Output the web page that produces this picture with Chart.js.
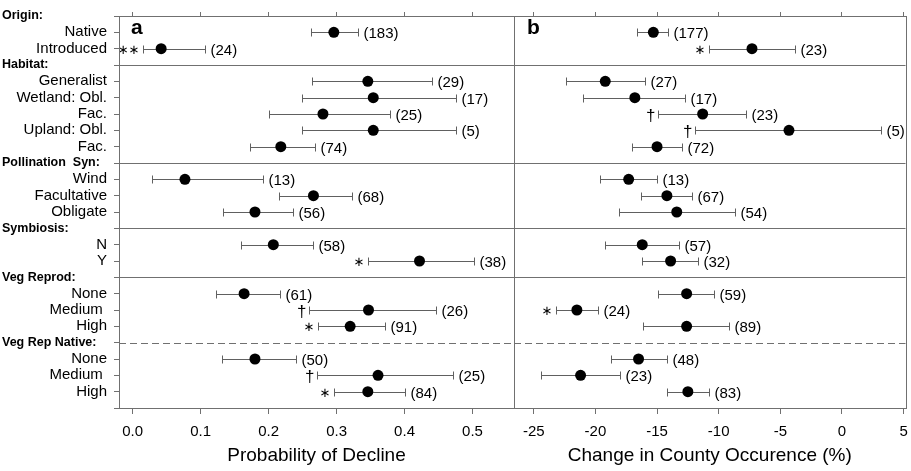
<!DOCTYPE html>
<html>
<head>
<meta charset="utf-8">
<script src="https://cdn.jsdelivr.net/npm/chart.js@4"></script>
<style>
  body { margin: 0; background: #fff; }
  #wrap { position: relative; width: 911px; height: 471px; }
  canvas { position: absolute; top: 0; }
</style>
</head>
<body>
<div id="wrap">
  <canvas id="chartA" width="520" height="471" style="left:0"></canvas>
  <canvas id="chartB" width="407" height="471" style="left:504px"></canvas>
</div>
<script>
// row slots, top to bottom (0 = top edge, 24 = bottom edge)
const rowLabels = ["", "Native", "Introduced", "", "Generalist", "Wetland: Obl.", "Fac.", "Upland: Obl.", "Fac.",
  "", "Wind", "Facultative", "Obligate", "", "N", "Y", "", "None", "Medium ", "High", "", "None", "Medium ", "High", ""];
const headerNames = ["Origin:", "Habitat:", "Pollination  Syn:", "Symbiosis:", "Veg Reprod:", "Veg Rep Native:"];
const headerRows = [0, 3, 9, 13, 16, 20];
const solidSeps = [3, 9, 13, 16];
const dashedSeps = [20];
const dataRows = [1, 2, 4, 5, 6, 7, 8, 10, 11, 12, 14, 15, 17, 18, 19, 21, 22, 23];

// panel a: probability of decline
const probMean = [0.296, 0.042, 0.346, 0.354, 0.280, 0.354, 0.218, 0.077, 0.266, 0.180, 0.207, 0.422, 0.164, 0.347, 0.320, 0.180, 0.361, 0.346];
const probLow  = [0.263, 0.016, 0.264, 0.249, 0.200, 0.249, 0.172, 0.028, 0.216, 0.133, 0.159, 0.346, 0.123, 0.260, 0.273, 0.132, 0.271, 0.296];
const probHigh = [0.332, 0.107, 0.440, 0.476, 0.378, 0.476, 0.269, 0.192, 0.322, 0.236, 0.266, 0.502, 0.217, 0.446, 0.371, 0.241, 0.472, 0.400];
const probN    = [183, 24, 29, 17, 25, 5, 74, 13, 68, 56, 58, 38, 61, 26, 91, 50, 25, 84];
const probSig  = ["", "**", "", "", "", "", "", "", "", "", "", "*", "", "†", "*", "", "†", "*"];
const probTicks = [0, 0.1, 0.2, 0.3, 0.4, 0.5];

// panel b: change in county occurrence (%)
const chgMean = [-15.3, -7.3, -19.2, -16.8, -11.3, -4.3, -15.0, -17.3, -14.2, -13.4, -16.2, -13.9, -12.6, -21.5, -12.6, -16.5, -21.2, -12.5];
const chgLow  = [-16.6, -10.8, -22.4, -21.0, -14.9, -11.9, -17.0, -19.6, -16.3, -18.1, -19.2, -16.2, -14.9, -23.2, -16.1, -18.7, -24.4, -14.2];
const chgHigh = [-14.1, -3.8, -16.0, -12.7, -7.8, 3.2, -13.0, -15.0, -12.2, -8.7, -13.2, -11.7, -10.4, -19.8, -9.2, -14.2, -18.0, -10.8];
const chgN    = [177, 23, 27, 17, 23, 5, 72, 13, 67, 54, 57, 32, 59, 24, 89, 48, 23, 83];
const chgSig  = ["", "*", "", "", "†", "†", "", "", "", "", "", "", "", "*", "", "", "", ""];
const chgTicks = [-25, -20, -15, -10, -5, 0, 5];

const axisColor = "#707070";
const barColor = "#606060";
const sans = '"Liberation Sans", Arial, sans-serif';

function panelPlugin(p) {
  return {
    id: "panel" + p.letter,
    beforeDatasetsDraw(chart) {
      const ctx = chart.ctx, xs = chart.scales.x, ys = chart.scales.y, a = chart.chartArea;
      ctx.save();
      // separators
      ctx.strokeStyle = axisColor;
      ctx.lineWidth = 1;
      solidSeps.concat(dashedSeps).forEach(r => {
        const y = Math.round(ys.getPixelForValue(r)) + 0.5;
        ctx.setLineDash(dashedSeps.includes(r) ? [7, 4] : []);
        ctx.beginPath(); ctx.moveTo(a.left, y); ctx.lineTo(a.right, y); ctx.stroke();
      });
      ctx.setLineDash([]);
      // error bars
      ctx.strokeStyle = barColor;
      dataRows.forEach((r, i) => {
        const y = Math.round(ys.getPixelForValue(r)) + 0.5;
        const x1 = Math.round(xs.getPixelForValue(p.low[i])) + 0.5;
        const x2 = Math.round(xs.getPixelForValue(p.high[i])) + 0.5;
        ctx.beginPath();
        ctx.moveTo(x1, y); ctx.lineTo(x2, y);
        ctx.moveTo(x1, y - 4); ctx.lineTo(x1, y + 4);
        ctx.moveTo(x2, y - 4); ctx.lineTo(x2, y + 4);
        ctx.stroke();
        // sample size
        ctx.fillStyle = "#000";
        ctx.font = "15px " + sans;
        ctx.textAlign = "left";
        ctx.textBaseline = "middle";
        ctx.fillText("(" + p.n[i] + ")", x2 + 5, y + 1);
        // significance marks
        const s = p.sig[i];
        if (s) {
          ctx.textAlign = "right";
          if (s === "†") {
            ctx.font = "17px " + sans;
            ctx.fillText(s, x1 - 3, y + 2);
          } else {
            ctx.font = '13px "DejaVu Sans"';
            ctx.fillText(s.replace(/\*/g, "\u2217"), x1 - 4, y + 1);
          }
        }
      });
      ctx.restore();
    },
    afterDraw(chart) {
      const ctx = chart.ctx, ys = chart.scales.y, a = chart.chartArea;
      ctx.save();
      ctx.strokeStyle = axisColor;
      ctx.lineWidth = 1;
      ctx.strokeRect(Math.round(a.left) + 0.5, Math.round(a.top) + 0.5, Math.round(a.right - a.left), Math.round(a.bottom - a.top));
      ctx.fillStyle = "#000";
      ctx.font = "bold 21px " + sans;
      ctx.textAlign = "left";
      ctx.textBaseline = "middle";
      ctx.fillText(p.letter, a.left + p.letterDx, a.top + 12);
      if (p.headers) {
        ctx.font = "bold 12.5px " + sans;
        headerRows.forEach((r, i) => ctx.fillText(headerNames[i], 2, ys.getPixelForValue(r)));
      }
      ctx.restore();
    }
  };
}

function makePanel(id, p) {
  const xOpts = {
    type: "linear", min: p.min, max: p.max,
    afterBuildTicks: s => { s.ticks = p.ticks.map(v => ({ value: v })); }
  };
  return new Chart(document.getElementById(id), {
    type: "scatter",
    data: {
      datasets: [{
        data: dataRows.map((r, i) => ({ x: p.mean[i], y: r })),
        backgroundColor: "#000", borderColor: "#000", borderWidth: 0,
        pointRadius: 5.5, pointHoverRadius: 5.5
      }]
    },
    options: {
      responsive: false, animation: false,
      layout: { padding: { left: 0, right: p.padRight, top: 0, bottom: 0 } },
      plugins: { legend: { display: false }, tooltip: { enabled: false } },
      scales: {
        x: Object.assign({}, xOpts, {
          position: "bottom",
          ticks: { callback: p.fmt, color: "#000", font: { size: 15, family: sans }, padding: 9, maxRotation: 0, autoSkip: false },
          grid: { drawOnChartArea: false, tickLength: 6, color: axisColor },
          border: { color: axisColor },
          title: { display: true, text: p.title, color: "#000", font: { size: 19, family: sans }, padding: { top: 0, bottom: 4 } },
          afterFit: s => { s.height = 63; s.paddingLeft = 0; s.paddingRight = 0; }
        }),
        x2: Object.assign({}, xOpts, {
          position: "top",
          ticks: { display: false },
          grid: { drawOnChartArea: false, tickLength: 4, color: axisColor },
          border: { color: axisColor },
          afterFit: s => { s.height = 16; s.paddingLeft = 0; s.paddingRight = 0; }
        }),
        y: {
          type: "linear", min: 0, max: 24, reverse: true,
          afterBuildTicks: s => { s.ticks = rowLabels.map((l, i) => ({ value: i })); },
          ticks: { display: p.headers, callback: v => rowLabels[v], color: "#000", font: { size: 15, family: sans }, padding: 7, autoSkip: false },
          grid: { drawOnChartArea: false, drawTicks: p.headers, tickLength: 5, color: axisColor },
          border: { color: axisColor },
          afterFit: s => { s.width = p.yWidth; s.paddingTop = 0; s.paddingBottom = 0; }
        }
      }
    },
    plugins: [panelPlugin(p)]
  });
}

makePanel("chartA", {
  letter: "a", letterDx: 12, headers: true, yWidth: 119, padRight: 6,
  min: -0.02, max: 0.561, ticks: probTicks, fmt: v => v.toFixed(1),
  title: "Probability of Decline",
  mean: probMean, low: probLow, high: probHigh, n: probN, sig: probSig
});

makePanel("chartB", {
  letter: "b", letterDx: 13, headers: false, yWidth: 10, padRight: 5,
  min: -26.6, max: 5.15, ticks: chgTicks, fmt: v => String(v),
  title: "Change in County Occurence (%)",
  mean: chgMean, low: chgLow, high: chgHigh, n: chgN, sig: chgSig
});
</script>
</body>
</html>
